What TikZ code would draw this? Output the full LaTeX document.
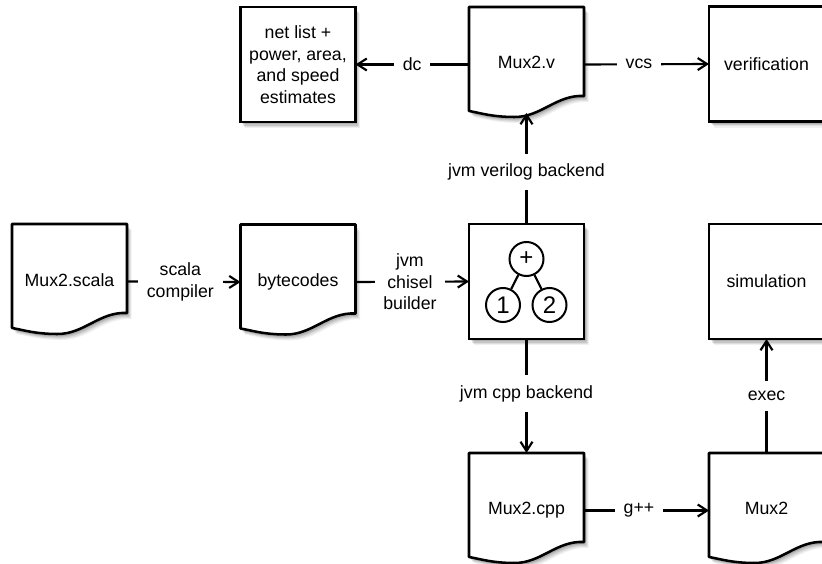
\documentclass[tikz,border=0pt]{standalone}
\usepackage{fontspec}
\setmainfont{Liberation Sans}
\usetikzlibrary{arrows.meta,calc}

% document outline drawn around a centre point (px units, y downwards)
\newcommand\docshape[2]{%
  \path[docline, shift={(#1,#2)}] (-57.5,-57.5) -- (57.5,-57.5) -- (57.5,31.5)
    .. controls (30,30) and (15,52.5) .. (-12,52.5)
    .. controls (-35,52.5) and (-48,48) .. (-57.5,46.5) -- cycle;}
\newcommand\up[1]{\raisebox{2.6pt}{#1}}

\begin{document}
\begin{tikzpicture}[x=0.75pt,y=-0.75pt,
  txt/.style={font=\fontsize{13.3}{16.2}\selectfont, align=center},
  shad/.style={
    preaction={fill=black, fill opacity=0.06, transform canvas={shift={(4.5,6)}}},
    preaction={fill=black, fill opacity=0.08, transform canvas={shift={(3.5,4.8)}}},
    preaction={fill=black, fill opacity=0.10, transform canvas={shift={(2.5,3.6)}}},
    preaction={fill=black, fill opacity=0.12, transform canvas={shift={(1.5,2.4)}}}},
  boxnode/.style={txt, draw, line width=1.9pt, minimum width=86.25pt, minimum height=86.25pt, fill=white, shad, outer sep=0pt},
  docnode/.style={txt, minimum width=86.25pt, minimum height=86.25pt, outer sep=0pt},
  docline/.style={draw, line width=1.9pt, fill=white, line join=round, shad},
  lbl/.style={txt, fill=white, inner xsep=6.5pt, inner ysep=7.5pt},
  conn/.style={line width=1.6pt},
  arr/.style={conn, -{Straight Barb[length=7pt,width=9pt]}},
  circ/.style={circle, draw, line width=1.5pt, minimum size=25.5pt, inner sep=0pt, fill=white, font=\fontsize{18}{18}\selectfont},
]
\useasboundingbox (0,0) rectangle (822,564);

% document shapes (drawn first, nodes carry the text)
\docshape{69.5}{281.5}
\docshape{298}{282}
\docshape{526.5}{64.5}
\docshape{526.5}{510.5}
\docshape{766.5}{510.5}

% document nodes
\node[docnode] (scala) at (69.5,281.5) {\up{Mux2.scala}};
\node[docnode] (bytecodes) at (298,282) {\up{bytecodes}};
\node[docnode] (muxv) at (526.5,64.5) {\up{Mux2.v}};
\node[docnode] (muxcpp) at (526.5,510.5) {\up{Mux2.cpp}};
\node[docnode] (mux) at (766.5,510.5) {\up{Mux2}};

% plain boxes
\node[boxnode] (netlist) at (298,64.5) {net list +\\power, area,\\and speed\\estimates};
\node[boxnode] (verif) at (766.5,64) {verification};
\node[boxnode] (chisel) at (526.5,281.5) {};
\node[boxnode] (sim) at (766.5,281.5) {simulation};

% expression tree inside chisel box
\node[circ] (plus) at (526.5,259) {+};
\node[circ] (one) at (503,305) {1};
\node[circ] (two) at (549.5,305) {2};
\draw[conn] (plus) -- (one);
\draw[conn] (plus) -- (two);

% connectors
\draw[arr] (scala.east) -- node[lbl, pos=0.47] {scala\\compiler} (bytecodes.west);
\draw[arr] (bytecodes.east) -- node[lbl, pos=0.48] {jvm\\chisel\\builder} (chisel.west);
\draw[arr] (muxv.west) -- node[lbl, pos=0.5] {dc} (netlist.east);
\draw[arr] (muxv.east) -- node[lbl, pos=0.44] {vcs} (verif.west);
\draw[arr] (chisel.north) -- node[lbl, pos=0.47] {jvm verilog backend} ($(muxv.north)+(0,106)$);
\draw[arr] (chisel.south) -- node[lbl, pos=0.48] {jvm cpp backend} (muxcpp.north);
\draw[arr] (muxcpp.east) -- node[lbl, pos=0.44] {g++} (mux.west);
\draw[arr] (mux.north) -- node[lbl, pos=0.5] {exec} (sim.south);
\end{tikzpicture}
\end{document}
